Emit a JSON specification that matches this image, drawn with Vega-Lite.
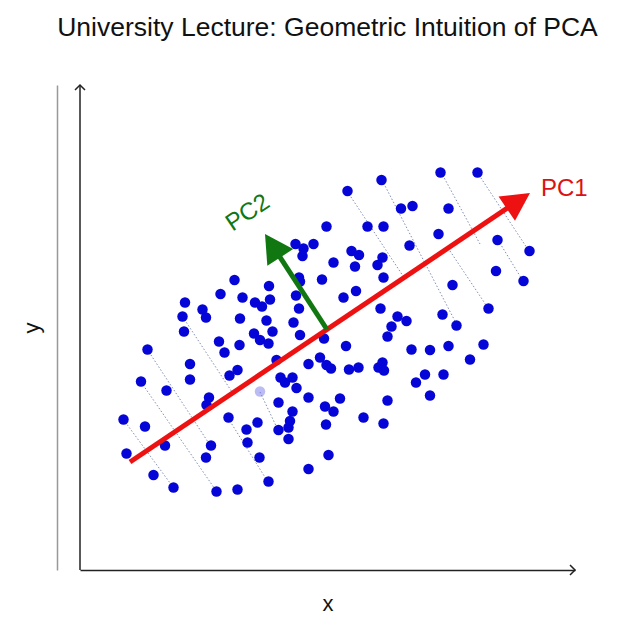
{
  "$schema": "https://vega.github.io/schema/vega-lite/v6.json",
  "width": 495,
  "height": 485,
  "autosize": {"type": "none"},
  "padding": {"left": 80, "top": 85, "right": 65, "bottom": 70},
  "background": "white",
  "config": {"view": {"stroke": null}},
  "title": {"text": "University Lecture: Geometric Intuition of PCA", "font": "Liberation Sans", "fontSize": 26.5, "fontWeight": "normal", "color": "#111111", "anchor": "middle", "offset": 41},
  "datasets": {
    "samples": [
      {"x":49.3,"y":68.7},{"x":43.1,"y":65.2},{"x":44.7,"y":64.3},{"x":44.5,"y":62.8},{"x":46.7,"y":65.2},{"x":50.7,"y":61.5},{"x":43.8,"y":58.5},{"x":44.0,"y":57.7},{"x":48.4,"y":58.1},{"x":30.9,"y":58.0},
      {"x":28.1,"y":55.2},{"x":32.5,"y":54.5},{"x":37.8,"y":56.8},{"x":38.0,"y":54.1},{"x":35.0,"y":53.5},{"x":36.4,"y":52.7},{"x":43.2,"y":54.9},{"x":43.8,"y":52.3},{"x":42.7,"y":49.5},{"x":32.0,"y":50.3},
      {"x":37.3,"y":49.9},{"x":38.5,"y":47.7},{"x":34.8,"y":47.3},{"x":36.0,"y":46.0},{"x":37.7,"y":45.3},{"x":44.0,"y":47.0},{"x":48.8,"y":46.3},{"x":27.8,"y":45.7},{"x":31.9,"y":45.0},{"x":24.5,"y":52.1},
      {"x":25.2,"y":50.5},{"x":21.0,"y":53.5},{"x":20.5,"y":50.7},{"x":20.8,"y":47.7},
      {"x":53.5,"y":75.8},{"x":60.3,"y":78.0},{"x":72.1,"y":79.5},{"x":79.5,"y":79.5},{"x":64.2,"y":72.3},{"x":66.5,"y":72.8},{"x":73.7,"y":72.3},{"x":57.5,"y":68.7},{"x":60.7,"y":68.7},{"x":71.7,"y":67.2},
      {"x":65.9,"y":64.9},{"x":83.5,"y":66.0},{"x":89.9,"y":63.8},{"x":54.3,"y":63.8},{"x":55.8,"y":63.0},{"x":60.5,"y":62.5},{"x":59.5,"y":61.0},{"x":55.0,"y":60.7},{"x":60.7,"y":58.5},{"x":83.2,"y":59.8},
      {"x":88.7,"y":57.8},{"x":74.5,"y":57.0},{"x":55.2,"y":55.8},{"x":52.7,"y":54.5},{"x":60.1,"y":52.3},{"x":81.7,"y":52.3},{"x":72.5,"y":51.1},{"x":63.5,"y":50.7},{"x":65.3,"y":49.8},{"x":62.3,"y":48.7},
      {"x":75.3,"y":48.9},{"x":61.5,"y":46.7},
      {"x":28.9,"y":43.5},{"x":13.5,"y":44.1},{"x":22.0,"y":41.2},{"x":22.0,"y":38.1},{"x":31.5,"y":40.0},{"x":29.9,"y":38.9},{"x":39.3,"y":42.0},{"x":45.7,"y":41.2},{"x":48.0,"y":42.5},{"x":49.3,"y":41.0},
      {"x":12.2,"y":37.7},{"x":17.3,"y":35.9},{"x":25.8,"y":34.5},{"x":25.3,"y":33.0},{"x":40.1,"y":38.5},{"x":41.0,"y":37.5},{"x":42.5,"y":38.5},{"x":43.3,"y":36.4},{"x":45.7,"y":34.5},{"x":39.7,"y":33.5},
      {"x":42.5,"y":31.7},{"x":42.0,"y":29.8},{"x":41.7,"y":28.5},{"x":39.7,"y":28.0},{"x":41.7,"y":26.2},{"x":49.0,"y":32.7},{"x":49.2,"y":29.1},{"x":8.7,"y":30.1},{"x":13.0,"y":28.7},{"x":29.7,"y":30.5},
      {"x":35.5,"y":29.5},{"x":33.3,"y":28.1},{"x":33.5,"y":25.5},{"x":35.9,"y":22.5},{"x":17.0,"y":24.9},{"x":26.2,"y":24.9},{"x":25.2,"y":22.5},{"x":9.3,"y":23.3},{"x":14.7,"y":19.0},{"x":18.7,"y":16.5},
      {"x":27.3,"y":15.7},{"x":31.5,"y":16.1},{"x":37.7,"y":17.7},{"x":45.7,"y":20.2},{"x":49.7,"y":23.0},
      {"x":53.2,"y":44.8},{"x":66.3,"y":44.1},{"x":70.0,"y":44.0},{"x":73.7,"y":44.8},{"x":80.7,"y":45.1},{"x":78.0,"y":42.1},{"x":50.2,"y":40.3},{"x":53.8,"y":40.1},{"x":55.7,"y":40.5},{"x":59.7,"y":40.5},
      {"x":60.5,"y":41.5},{"x":60.8,"y":39.9},{"x":69.0,"y":39.1},{"x":72.7,"y":39.1},{"x":67.2,"y":37.5},{"x":70.0,"y":34.9},{"x":52.0,"y":34.3},{"x":50.7,"y":31.7},{"x":61.5,"y":33.9},{"x":56.7,"y":30.5},
      {"x":60.7,"y":29.3}
    ],
    "blurred": [{"x":36.0,"y":35.7}],
    "projections": [
      {"x":53.4,"y":75.8,"x2":65.0,"y2":58.2},
      {"x":60.4,"y":78.0,"x2":75.4,"y2":49.0},
      {"x":72.2,"y":79.6,"x2":80.0,"y2":65.2},
      {"x":73.6,"y":64.4,"x2":81.6,"y2":52.4},
      {"x":79.4,"y":79.6,"x2":89.8,"y2":63.8},
      {"x":83.6,"y":66.0,"x2":88.6,"y2":57.8},
      {"x":20.5,"y":50.7,"x2":30.4,"y2":35.6},
      {"x":29.6,"y":30.4,"x2":37.6,"y2":17.6},
      {"x":13.4,"y":44.2,"x2":26.0,"y2":25.0},
      {"x":12.2,"y":37.6,"x2":27.4,"y2":15.6},
      {"x":8.6,"y":30.2,"x2":18.6,"y2":16.6},
      {"x":36.0,"y":35.6,"x2":39.6,"y2":28.0}
    ],
    "pc1": [{"x":10.0,"y":21.6,"x2":86.7,"y2":73.2}],
    "pc1Tip": [{"x":90.0,"y":75.4}],
    "pc2": [{"x":49.4,"y":48.1,"x2":39.2,"y2":63.8}],
    "pc2Tip": [{"x":37.0,"y":67.2}],
    "pc1Label": [{"x":92.2,"y":76.2,"label":"PC1"}],
    "pc2Label": [{"x":33.6,"y":71.4,"label":"PC2"}],
    "yAxisLine": [{"x":0,"y":0,"y2":97}],
    "yAxisTip": [{"x":0,"y":97}],
    "xAxisTip": [{"x":99,"y":0}]
  },
  "encoding": {
    "x": {"field": "x", "type": "quantitative", "scale": {"domain": [0, 99], "nice": false, "zero": false},
          "axis": {"title": "x", "domain": true, "domainColor": "#222222", "domainWidth": 1.5, "ticks": false, "labels": false, "grid": false, "titleFont": "Liberation Sans", "titleFontSize": 22, "titleFontWeight": "normal", "titleColor": "#111111", "titlePadding": 23}},
    "y": {"field": "y", "type": "quantitative", "scale": {"domain": [0, 97], "nice": false, "zero": false},
          "axis": {"title": "y", "offset": 23, "domain": true, "domainColor": "#999999", "domainWidth": 1.5, "ticks": false, "labels": false, "grid": false, "titleFont": "Liberation Sans", "titleFontSize": 22, "titleFontWeight": "normal", "titleColor": "#111111", "titlePadding": 14}}
  },
  "layer": [
    {
      "data": {"name": "projections"},
      "mark": {"type": "rule", "color": "#7f8fb5", "strokeWidth": 1, "strokeDash": [1.5, 2]},
      "encoding": {"x2": {"field": "x2"}, "y2": {"field": "y2"}}
    },
    {
      "data": {"name": "blurred"},
      "mark": {"type": "circle", "size": 110, "color": "#6a6ae8", "opacity": 0.45}
    },
    {
      "data": {"name": "samples"},
      "mark": {"type": "circle", "size": 110, "color": "#0505d8", "opacity": 1}
    },
    {
      "data": {"name": "pc1"},
      "mark": {"type": "rule", "color": "#ee1111", "strokeWidth": 5},
      "encoding": {"x2": {"field": "x2"}, "y2": {"field": "y2"}}
    },
    {
      "data": {"name": "pc1Tip"},
      "mark": {"type": "point", "shape": "M0,0 L-1.05,2 L1.05,2 Z", "size": 784, "filled": true, "color": "#ee1111", "opacity": 1, "strokeWidth": 0, "angle": 56}
    },
    {
      "data": {"name": "pc2"},
      "mark": {"type": "rule", "color": "#117711", "strokeWidth": 5},
      "encoding": {"x2": {"field": "x2"}, "y2": {"field": "y2"}}
    },
    {
      "data": {"name": "pc2Tip"},
      "mark": {"type": "point", "shape": "M0,0 L-1.1,2 L1.1,2 Z", "size": 784, "filled": true, "color": "#117711", "opacity": 1, "strokeWidth": 0, "angle": 327}
    },
    {
      "data": {"name": "pc1Label"},
      "mark": {"type": "text", "align": "left", "baseline": "middle", "font": "Liberation Sans", "fontSize": 24, "color": "#dd1111"},
      "encoding": {"text": {"field": "label"}}
    },
    {
      "data": {"name": "pc2Label"},
      "mark": {"type": "text", "align": "center", "baseline": "middle", "font": "Liberation Sans", "fontSize": 24, "color": "#117711", "angle": 326},
      "encoding": {"text": {"field": "label"}}
    },
    {
      "data": {"name": "yAxisLine"},
      "mark": {"type": "rule", "color": "#222222", "strokeWidth": 1.5},
      "encoding": {"y2": {"field": "y2"}}
    },
    {
      "data": {"name": "yAxisTip"},
      "mark": {"type": "point", "shape": "M-1,1 L0,0 L1,1", "size": 100, "filled": false, "color": "#222222", "strokeWidth": 1.5, "opacity": 1}
    },
    {
      "data": {"name": "xAxisTip"},
      "mark": {"type": "point", "shape": "M-1,-1 L0,0 L-1,1", "size": 100, "filled": false, "color": "#222222", "strokeWidth": 1.5, "opacity": 1}
    }
  ]
}
